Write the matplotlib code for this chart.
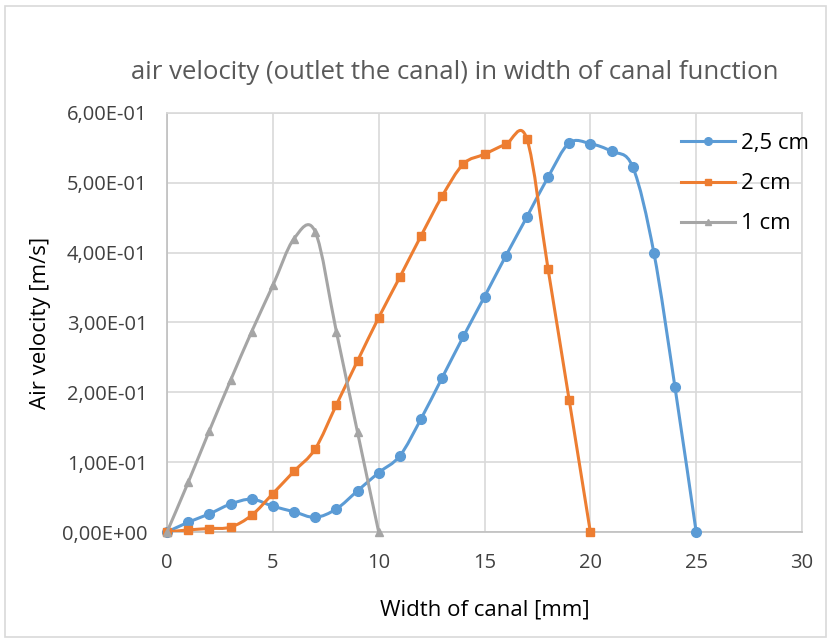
import numpy as np
import matplotlib.pyplot as plt
from matplotlib.path import Path
from matplotlib.patches import PathPatch, Rectangle
from matplotlib.lines import Line2D
from matplotlib.ticker import FuncFormatter, MultipleLocator

plt.rcParams['font.family'] = ['Open Sans', 'DejaVu Sans']

# values
x_25 = list(range(0, 26))
v_25 = [0, 0.014, 0.026, 0.040, 0.047, 0.037, 0.029, 0.021, 0.033, 0.059,
        0.085, 0.109, 0.162, 0.221, 0.280, 0.337, 0.395, 0.451, 0.508, 0.557,
        0.556, 0.545, 0.523, 0.400, 0.207, 0]

x_20 = list(range(0, 21))
v_20 = [0, 0.003, 0.005, 0.007, 0.024, 0.055, 0.087, 0.119, 0.182, 0.245,
        0.307, 0.365, 0.424, 0.481, 0.527, 0.541, 0.555, 0.563, 0.377, 0.189, 0]

x_10 = list(range(0, 11))
v_10 = [0, 0.071, 0.145, 0.217, 0.287, 0.353, 0.420, 0.430, 0.287, 0.143, 0]

series = [
    ('2,5 cm', x_25, v_25, '#5B9BD5', 'o', 7),
    ('2 cm', x_20, v_20, '#ED7D31', 's', 6.3),
    ('1 cm', x_10, v_10, '#A5A5A5', '^', 6.3),
]


def smooth_path(xs, ys):
    # Excel-like smoothed line: cubic Bezier segments through the points
    p = np.column_stack([xs, ys]).astype(float)
    n = len(p)
    verts = [p[0]]
    codes = [Path.MOVETO]
    for i in range(n - 1):
        prev = p[i - 1] if i > 0 else p[i]
        nxt = p[i + 2] if i + 2 < n else p[i + 1]
        c1 = p[i] + (p[i + 1] - prev) / 6.0
        c2 = p[i + 1] - (nxt - p[i]) / 6.0
        verts += [c1, c2, p[i + 1]]
        codes += [Path.CURVE4] * 3
    return Path(verts, codes)


fig = plt.figure(figsize=(8.33, 6.43), dpi=100)
fig.patches.append(Rectangle((0.006, 0.01), 0.986, 0.98, transform=fig.transFigure,
                             fill=False, edgecolor='#d9d9d9', lw=1.2))
ax = fig.add_axes([0.2005, 0.1726, 0.7623, 0.6517])

handles = []
for z, (name, xs, ys, color, marker, ms) in enumerate(series):
    ax.add_patch(PathPatch(smooth_path(xs, ys), fill=False, edgecolor=color, lw=2.2,
                           capstyle='round', joinstyle='round', zorder=3 + z))
    ax.plot(xs, ys, linestyle='none', marker=marker, markersize=ms,
            color=color, zorder=3 + z, clip_on=False)
    handles.append(Line2D([], [], color=color, lw=2.2, marker=marker, markersize=ms - 1.5))

ax.set_xlim(0, 30)
ax.set_ylim(0, 0.6)
ax.xaxis.set_major_locator(MultipleLocator(5))
ax.yaxis.set_major_locator(MultipleLocator(0.1))
ax.yaxis.set_major_formatter(FuncFormatter(lambda v, pos: f'{v:.2E}'.replace('.', ',')))
ax.grid(True, color='#d9d9d9', lw=1.2)
ax.set_axisbelow(True)
for s in ax.spines.values():
    s.set_color('#d9d9d9')
    s.set_linewidth(1.2)
ax.spines['left'].set_color('#bfbfbf')
ax.spines['bottom'].set_color('#bfbfbf')
ax.tick_params(length=0, labelsize=14.5)
ax.tick_params(axis='x', pad=15)
ax.tick_params(axis='y', pad=14)
for lab in ax.get_xticklabels() + ax.get_yticklabels():
    lab.set_color('#404040')

fig.text(0.546, 0.888, 'air velocity (outlet the canal) in width of canal function',
         ha='center', va='center', fontsize=18.5, color='#595959')
ax.set_xlabel('Width of canal [mm]', fontsize=16, labelpad=19)
ax.set_ylabel('Air velocity [m/s]', fontsize=16, labelpad=8)

fig.legend(handles, [s[0] for s in series], loc='upper left',
           bbox_to_anchor=(0.794, 0.824), frameon=False, fontsize=16,
           handlelength=2.4, labelspacing=0.86, handletextpad=0.27)

fig.savefig('out.png', dpi=100)
